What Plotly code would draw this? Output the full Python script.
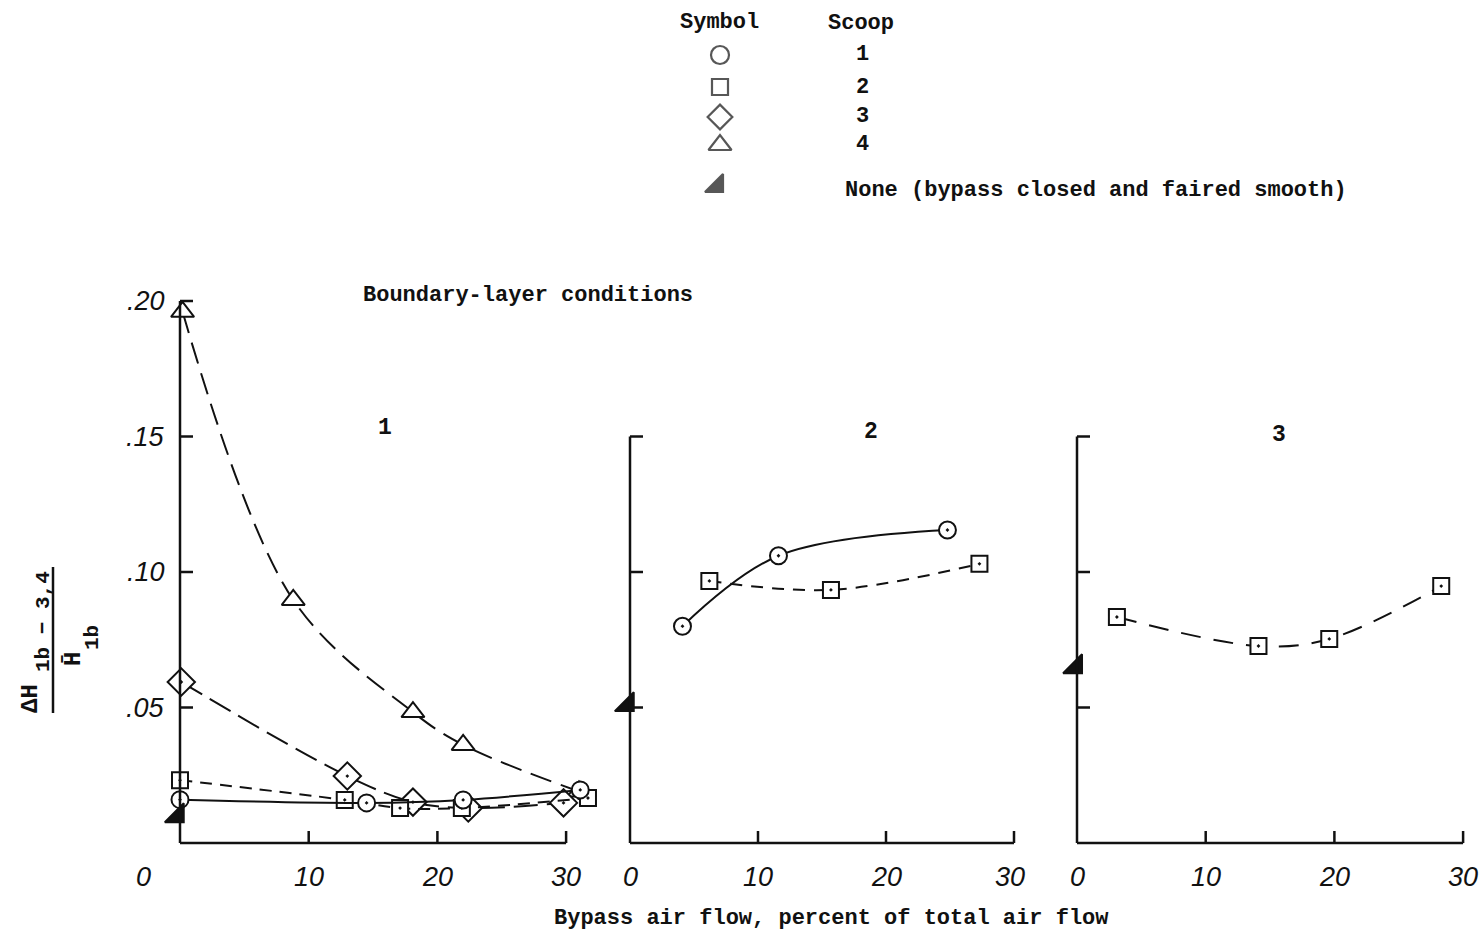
import plotly.graph_objects as go

W, H = 1483, 938

# ---------------- data ----------------
# Panel 1 (boundary-layer condition 1)
p1_s1_x = [0.0, 14.5, 22.0, 31.1]
p1_s1_y = [0.0160, 0.0148, 0.0159, 0.0196]
p1_s2_x = [0.0, 12.8, 17.1, 21.9, 31.7]
p1_s2_y = [0.0232, 0.0159, 0.0129, 0.0129, 0.0166]
p1_s3_x = [0.1, 13.0, 18.1, 22.4, 29.8]
p1_s3_y = [0.0594, 0.0247, 0.0151, 0.0129, 0.0148]
p1_s4_x = [0.2, 8.8, 18.1, 22.0, 31.0]
p1_s4_y = [0.196, 0.0897, 0.0483, 0.0362, 0.0190]
p1_none_x = [-0.2]
p1_none_y = [0.0100]

# Panel 2
p2_s1_x = [4.1, 11.6, 24.8]
p2_s1_y = [0.080, 0.106, 0.1155]
p2_s2_x = [6.2, 15.7, 27.3]
p2_s2_y = [0.0967, 0.0934, 0.1030]
p2_none_x = [-0.2]
p2_none_y = [0.051]

# Panel 3
p3_s2_x = [3.1, 14.1, 19.6, 28.3]
p3_s2_y = [0.0834, 0.0727, 0.0753, 0.0948]
p3_none_x = [-0.1]
p3_none_y = [0.065]

x_ticks = [0, 10, 20, 30]
x_tick_text = ["0", "10", "20", "30"]
y_ticks = [0.05, 0.10, 0.15, 0.20]
y_tick_text = [".05", ".10", ".15", ".20"]
panel_titles = ["1", "2", "3"]
panel_ytop = [0.20, 0.15, 0.15]

legend_symbols = ["circle", "square", "diamond", "triangle-up", "triangle-se"]
legend_labels = ["1", "2", "3", "4", "None (bypass closed and faired smooth)"]

# ---------------- layout geometry (pixels) ----------------
PX0 = [180, 630, 1077]       # pixel of x = 0 in each panel
PXU = [12.87, 12.8, 12.87]   # pixels per x unit
XR = [(-3, 33), (-3, 33), (-3, 31.4)]
PY0, PYU = 843, 2710         # pixel of y = 0, pixels per y unit
YR = (-0.015, 0.21)

TYPE = "Liberation Mono"
TICKF = "Liberation Sans"
BLACK = "#111111"

def xdom(i):
    lo, hi = XR[i]
    return [max(0, (PX0[i] + lo * PXU[i]) / W), min(1, (PX0[i] + hi * PXU[i]) / W)]

ydom = [1 - (PY0 - YR[0] * PYU) / H, 1 - (PY0 - YR[1] * PYU) / H]

fig = go.Figure()

def add(xa, ya, x, y, symbol, dash=None, line=True, size=17, filled=False):
    fig.add_trace(go.Scatter(
        x=x, y=y, xaxis=xa, yaxis=ya,
        mode="lines+markers" if line else "markers",
        line=dict(color=BLACK, width=2, dash=dash, shape="spline", smoothing=1.0),
        marker=dict(symbol=symbol, size=size,
                    color=BLACK if filled else "white",
                    line=dict(color=BLACK, width=2)),
        cliponaxis=False, showlegend=False, hoverinfo="skip"))

# panel 1
add("x", "y", p1_s4_x, p1_s4_y, "triangle-up", dash="22px,10px", size=20)
add("x", "y", p1_s3_x, p1_s3_y, "diamond-dot", dash="24px,9px", size=21)
add("x", "y", p1_s2_x, p1_s2_y, "square-dot", dash="12px,8px", size=16)
add("x", "y", p1_s1_x, p1_s1_y, "circle-dot", dash="solid", size=17)
add("x", "y", p1_none_x, p1_none_y, "triangle-se", line=False, size=21, filled=True)
# panel 2
add("x2", "y2", p2_s2_x, p2_s2_y, "square-dot", dash="12px,9px", size=16)
add("x2", "y2", p2_s1_x, p2_s1_y, "circle-dot", dash="solid", size=17)
add("x2", "y2", p2_none_x, p2_none_y, "triangle-se", line=False, size=21, filled=True)
# panel 3
add("x3", "y3", p3_s2_x, p3_s2_y, "square-dot", dash="20px,13px", size=16)
add("x3", "y3", p3_none_x, p3_none_y, "triangle-se", line=False, size=21, filled=True)

# legend drawn on a pixel overlay axis
LEG_X = 720
LEG_Y = [55, 87, 117, 145, 186]
fig.add_trace(go.Scatter(
    x=[LEG_X] * 4 + [LEG_X - 3], y=LEG_Y, xaxis="x4", yaxis="y4", mode="markers",
    marker=dict(symbol=legend_symbols, size=[18, 16, 19, 20, 20],
                color=["white"] * 4 + [BLACK], line=dict(color=BLACK, width=2.2)),
    showlegend=False, hoverinfo="skip", cliponaxis=False))

axis_common = dict(showgrid=False, zeroline=False, showline=False,
                   showticklabels=False, ticks="", fixedrange=True)
layout = dict(
    width=W, height=H, margin=dict(l=0, r=0, t=0, b=0),
    paper_bgcolor="white", plot_bgcolor="rgba(0,0,0,0)",
    xaxis4=dict(domain=[0, 1], range=[0, W], anchor="y4", **axis_common),
    yaxis4=dict(domain=[0, 1], range=[H, 0], anchor="x4", **axis_common),
)
for i in range(3):
    s = "" if i == 0 else str(i + 1)
    layout["xaxis" + s] = dict(domain=xdom(i), range=list(XR[i]), anchor="y" + s, **axis_common)
    layout["yaxis" + s] = dict(domain=ydom, range=list(YR), anchor="x" + s, **axis_common)
fig.update_layout(**layout)

shapes = []
annotations = []
TICK_Y = 12 / PYU   # tick lengths in data units (12 px)
for i in range(3):
    s = "" if i == 0 else str(i + 1)
    xr, yr = "x" + s, "y" + s
    ytop = panel_ytop[i]
    line = dict(color=BLACK, width=2.5)
    shapes.append(dict(type="line", xref=xr, yref=yr, x0=0, x1=0, y0=0, y1=ytop, line=line))
    shapes.append(dict(type="line", xref=xr, yref=yr, x0=0, x1=30, y0=0, y1=0, line=line))
    tick_x = 13 / PXU[i]
    for yt in y_ticks:
        if yt <= ytop + 1e-9:
            shapes.append(dict(type="line", xref=xr, yref=yr, x0=0, x1=tick_x, y0=yt, y1=yt, line=line))
    for xt in x_ticks[1:]:
        shapes.append(dict(type="line", xref=xr, yref=yr, x0=xt, x1=xt, y0=0, y1=TICK_Y, line=line))
    # x tick labels
    for xt, tt in zip(x_ticks, x_tick_text):
        annotations.append(dict(xref=xr, yref=yr, x=xt, y=0, yshift=-34,
                                xshift=(-37 if (i == 0 and xt == 0) else (-4 if (i == 1 and xt == 30) else 0)),
                                text="<i>" + tt + "</i>", showarrow=False,
                                font=dict(family=TICKF, size=27, color=BLACK)))
    # panel numbers
    annotations.append(dict(xref=xr, yref="paper", x=[15.9, 18.8, 15.7][i], y=1 - [428, 432, 435][i] / H,
                            text="<b>" + panel_titles[i] + "</b>", showarrow=False,
                            font=dict(family=TYPE, size=23, color=BLACK)))

# y tick labels (panel 1)
for yt, tt in zip(y_ticks, y_tick_text):
    annotations.append(dict(xref="x", yref="y", x=0, y=yt, xanchor="right", xshift=-13,
                            text="<i>" + tt + "</i>", showarrow=False,
                            font=dict(family=TICKF, size=27, color=BLACK)))

def pa(x, y, text, size=22, xanchor="center", angle=0, bold=True):
    annotations.append(dict(xref="paper", yref="paper", x=x / W, y=1 - y / H,
                            text=("<b>" + text + "</b>") if bold else text,
                            xanchor=xanchor, yanchor="middle", showarrow=False, textangle=angle,
                            font=dict(family=TYPE, size=size, color=BLACK)))

pa(528, 295, "Boundary-layer conditions")
pa(832, 918, "Bypass air flow, percent of total air flow")
pa(719, 22, "Symbol")
pa(861, 23, "Scoop")
for lab, yy in zip(legend_labels[:4], LEG_Y[:4]):
    pa(862, yy, lab)
pa(843, 191, legend_labels[4], xanchor="left")

# y-axis title: fraction  (ΔH_1b-3,4 / H̄_1b), rotated
pa(30, 699, "ΔH", size=24, angle=-90)
pa(43, 622, "1b − 3,4", size=21, angle=-90)
pa(73, 659, "H\u0304", size=24, angle=-90)
pa(92, 638, "1b", size=21, angle=-90)
shapes.append(dict(type="line", xref="paper", yref="paper", x0=53 / W, x1=53 / W,
                   y0=1 - 567 / H, y1=1 - 713 / H, line=dict(color=BLACK, width=2.5)))

fig.update_layout(shapes=shapes, annotations=annotations)
fig.write_html("out.html")
